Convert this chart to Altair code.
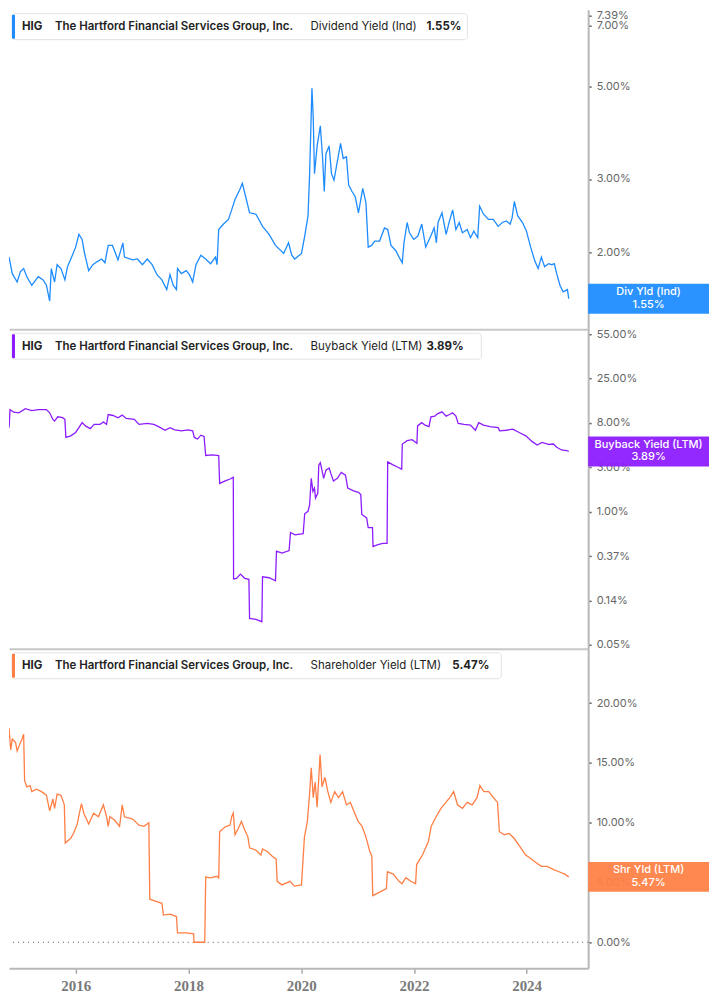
import altair as alt
import pandas as pd

TICKER = "HIG"
COMPANY = "The Hartford Financial Services Group, Inc."
SERIES_NAMES = ["Dividend Yield (Ind)", "Buyback Yield (LTM)", "Shareholder Yield (LTM)"]
SHORT_NAMES = ["Div Yld (Ind)", "Buyback Yield (LTM)", "Shr Yld (LTM)"]
LAST_VALUES = [1.55, 3.89, 5.47]
LAST_LABELS = ["1.55%", "3.89%", "5.47%"]
COLORS = ["#1E8CFF", "#8C1CFF", "#FF7F45"]

# Dividend yield (Ind), %  (decimal year, value)
div_t = [2014.815, 2014.872, 2014.958, 2015.017, 2015.074, 2015.131, 2015.218, 2015.334, 2015.420, 2015.478,
         2015.536, 2015.564, 2015.623, 2015.668, 2015.737, 2015.806, 2015.853, 2015.939, 2015.997, 2016.055,
         2016.112, 2016.152, 2016.228, 2016.303, 2016.372, 2016.458, 2016.516, 2016.574, 2016.649, 2016.747,
         2016.834, 2016.862, 2017.007, 2017.093, 2017.180, 2017.266, 2017.353, 2017.439, 2017.526, 2017.612,
         2017.670, 2017.727, 2017.785, 2017.803, 2017.872, 2017.958, 2018.016, 2018.073, 2018.131, 2018.218,
         2018.304, 2018.391, 2018.478, 2018.505, 2018.535, 2018.621, 2018.708, 2018.765, 2018.824, 2018.910,
         2018.955, 2019.014, 2019.083, 2019.197, 2019.313, 2019.429, 2019.543, 2019.689, 2019.775, 2019.832,
         2019.885, 2020.005, 2020.062, 2020.121, 2020.149, 2020.190, 2020.213, 2020.235, 2020.282, 2020.339,
         2020.381, 2020.408, 2020.438, 2020.495, 2020.536, 2020.581, 2020.628, 2020.697, 2020.744, 2020.801,
         2020.841, 2020.900, 2020.957, 2021.014, 2021.090, 2021.147, 2021.187, 2021.246, 2021.303, 2021.389,
         2021.476, 2021.533, 2021.592, 2021.678, 2021.735, 2021.792, 2021.822, 2021.879, 2021.920, 2021.995,
         2022.069, 2022.138, 2022.208, 2022.284, 2022.358, 2022.398, 2022.427, 2022.497, 2022.571, 2022.630,
         2022.687, 2022.744, 2022.803, 2022.860, 2022.946, 2023.003, 2023.062, 2023.131, 2023.166, 2023.235,
         2023.322, 2023.408, 2023.495, 2023.569, 2023.638, 2023.708, 2023.742, 2023.782, 2023.841, 2023.927,
         2023.997, 2024.071, 2024.145, 2024.204, 2024.261, 2024.318, 2024.388, 2024.446, 2024.491, 2024.533,
         2024.590, 2024.647, 2024.723, 2024.746]
div_v = [1.95, 1.78, 1.70, 1.80, 1.83, 1.75, 1.67, 1.75, 1.72, 1.67,
         1.53, 1.83, 1.70, 1.87, 1.83, 1.72, 1.85, 1.97, 2.06, 2.21,
         2.15, 2.00, 1.81, 1.87, 1.90, 1.93, 1.89, 2.08, 2.08, 1.92,
         2.11, 1.95, 1.92, 1.93, 1.87, 1.93, 1.87, 1.77, 1.72, 1.63,
         1.77, 1.67, 1.63, 1.83, 1.78, 1.81, 1.77, 1.70, 1.87, 1.97,
         1.93, 1.88, 1.95, 1.87, 2.27, 2.34, 2.40, 2.53, 2.68, 2.83,
         2.93, 2.72, 2.49, 2.47, 2.31, 2.21, 2.08, 1.99, 2.11, 1.97,
         1.93, 1.99, 2.19, 2.45, 3.09, 4.95, 4.21, 3.09, 3.60, 4.02,
         3.33, 2.80, 3.45, 3.60, 3.09, 2.98, 3.24, 3.65, 3.36, 3.39,
         2.90, 2.80, 2.72, 2.49, 2.85, 2.63, 2.06, 2.08, 2.13, 2.13,
         2.29, 2.27, 2.08, 2.02, 1.95, 1.89, 2.11, 2.36, 2.23, 2.15,
         2.19, 2.34, 2.06, 2.17, 2.29, 2.11, 2.36, 2.49, 2.21, 2.38,
         2.53, 2.27, 2.36, 2.23, 2.27, 2.17, 2.25, 2.17, 2.58, 2.47,
         2.40, 2.40, 2.31, 2.36, 2.38, 2.34, 2.42, 2.65, 2.45, 2.36,
         2.25, 2.06, 1.91, 1.83, 1.95, 1.85, 1.88, 1.87, 1.88, 1.78,
         1.67, 1.61, 1.63, 1.55]

# Buyback yield (LTM), %
buy_t = [2014.815, 2014.832, 2014.900, 2014.988, 2015.104, 2015.218, 2015.334, 2015.478, 2015.536, 2015.593,
         2015.623, 2015.680, 2015.766, 2015.806, 2015.824, 2015.910, 2015.997, 2016.055, 2016.112, 2016.170,
         2016.256, 2016.325, 2016.429, 2016.488, 2016.545, 2016.574, 2016.661, 2016.747, 2016.822, 2016.891,
         2017.035, 2017.121, 2017.266, 2017.381, 2017.467, 2017.583, 2017.670, 2017.756, 2017.872, 2017.986,
         2018.073, 2018.102, 2018.159, 2018.218, 2018.275, 2018.304, 2018.419, 2018.535, 2018.552, 2018.651,
         2018.737, 2018.794, 2018.799, 2018.851, 2018.920, 2018.997, 2019.071, 2019.083, 2019.197, 2019.301,
         2019.313, 2019.429, 2019.543, 2019.561, 2019.659, 2019.785, 2019.810, 2019.889, 2020.035, 2020.062,
         2020.121, 2020.149, 2020.178, 2020.208, 2020.235, 2020.253, 2020.294, 2020.311, 2020.339, 2020.398,
         2020.438, 2020.495, 2020.524, 2020.571, 2020.640, 2020.709, 2020.784, 2020.824, 2020.927, 2021.014,
         2021.055, 2021.073, 2021.159, 2021.187, 2021.263, 2021.273, 2021.360, 2021.446, 2021.522, 2021.533,
         2021.619, 2021.706, 2021.782, 2021.792, 2021.879, 2021.965, 2022.052, 2022.064, 2022.138, 2022.197,
         2022.266, 2022.301, 2022.370, 2022.415, 2022.497, 2022.571, 2022.630, 2022.687, 2022.744, 2022.785,
         2022.889, 2023.003, 2023.090, 2023.149, 2023.235, 2023.349, 2023.495, 2023.522, 2023.638, 2023.754,
         2023.869, 2023.984, 2024.100, 2024.187, 2024.273, 2024.388, 2024.474, 2024.533, 2024.619, 2024.706,
         2024.746]
buy_v = [6.65, 9.98, 9.42, 9.28, 10.2, 9.77, 9.98, 9.98, 9.28, 8.0,
         7.71, 8.49, 8.31, 8.0, 5.33, 5.53, 5.96, 6.65, 7.44, 6.91,
         6.51, 7.16, 7.16, 7.55, 7.16, 8.93, 8.74, 8.31, 8.82, 8.18,
         8.0, 7.16, 7.32, 7.16, 6.80, 6.27, 6.65, 6.33, 6.19, 6.33,
         6.19, 5.33, 5.14, 5.61, 5.45, 3.55, 3.60, 3.55, 1.89, 2.00,
         2.09, 2.17, 0.220, 0.223, 0.245, 0.223, 0.218, 0.0905, 0.0886, 0.084,
         0.231, 0.226, 0.211, 0.411, 0.393, 0.417, 0.626, 0.595, 0.61, 0.954,
         1.01, 1.17, 2.12, 1.58, 1.70, 1.36, 1.52, 2.85, 3.02, 2.12,
         2.55, 2.68, 2.37, 2.00, 2.12, 2.42, 2.28, 1.70, 1.60, 1.55,
         1.47, 0.94, 0.87, 0.70, 0.70, 0.456, 0.477, 0.49, 0.49, 3.07,
         2.89, 2.74, 2.61, 4.60, 4.95, 5.07, 4.67, 6.91, 7.44, 7.03,
         6.80, 8.49, 8.62, 9.08, 9.49, 8.62, 8.93, 9.28, 8.62, 7.32,
         7.16, 7.03, 6.27, 7.44, 7.03, 6.80, 6.65, 6.19, 6.27, 6.42,
         5.96, 5.53, 4.85, 4.50, 4.77, 4.56, 4.60, 4.27, 4.02, 3.97,
         3.89]

# Shareholder yield (LTM), %
shr_t = [2014.815, 2014.844, 2014.872, 2014.931, 2014.958, 2015.017, 2015.045, 2015.074, 2015.091, 2015.131,
         2015.190, 2015.218, 2015.304, 2015.391, 2015.478, 2015.536, 2015.593, 2015.623, 2015.668, 2015.737,
         2015.796, 2015.813, 2015.910, 2015.969, 2016.026, 2016.055, 2016.100, 2016.142, 2016.228, 2016.315,
         2016.401, 2016.488, 2016.545, 2016.574, 2016.602, 2016.689, 2016.775, 2016.822, 2016.862, 2017.007,
         2017.121, 2017.208, 2017.294, 2017.311, 2017.410, 2017.526, 2017.554, 2017.670, 2017.785, 2017.803,
         2017.958, 2018.090, 2018.095, 2018.287, 2018.304, 2018.391, 2018.505, 2018.535, 2018.552, 2018.651,
         2018.737, 2018.765, 2018.794, 2018.824, 2018.881, 2018.938, 2018.997, 2019.054, 2019.083, 2019.197,
         2019.284, 2019.313, 2019.400, 2019.486, 2019.555, 2019.573, 2019.659, 2019.803, 2019.879, 2020.005,
         2020.057, 2020.109, 2020.144, 2020.178, 2020.213, 2020.247, 2020.282, 2020.334, 2020.369, 2020.420,
         2020.472, 2020.524, 2020.593, 2020.662, 2020.732, 2020.801, 2020.870, 2020.939, 2021.009, 2021.078,
         2021.147, 2021.216, 2021.251, 2021.268, 2021.389, 2021.510, 2021.528, 2021.631, 2021.735, 2021.787,
         2021.856, 2021.943, 2022.029, 2022.047, 2022.150, 2022.254, 2022.306, 2022.393, 2022.479, 2022.566,
         2022.635, 2022.704, 2022.773, 2022.860, 2022.946, 2023.033, 2023.119, 2023.171, 2023.240, 2023.327,
         2023.413, 2023.483, 2023.517, 2023.604, 2023.690, 2023.777, 2023.881, 2023.984, 2024.071, 2024.157,
         2024.261, 2024.365, 2024.469, 2024.573, 2024.676, 2024.746]
shr_v = [17.9, 16.1, 17.0, 16.7, 16.0, 16.7, 17.0, 17.4, 13.5, 13.0,
         13.1, 12.6, 12.8, 12.6, 12.3, 11.0, 12.0, 11.2, 12.4, 12.3,
         11.5, 8.3, 8.7, 9.2, 9.9, 10.6, 11.6, 10.8, 9.9, 10.8,
         10.5, 11.5, 10.5, 9.7, 10.5, 10.2, 9.7, 11.5, 10.5, 10.3,
         9.8, 9.7, 10.0, 3.6, 3.45, 3.26, 2.27, 2.35, 2.15, 0.78,
         0.78, 0.70, 0.0, 0.0, 5.46, 5.38, 5.52, 5.38, 9.25, 9.66,
         9.8, 10.5, 10.8, 9.0, 9.5, 10.1, 9.4, 8.8, 7.9, 7.7,
         7.3, 7.8, 7.6, 7.2, 6.95, 5.1, 4.8, 5.1, 4.7, 4.8,
         8.8, 10.1, 12.1, 14.6, 12.1, 13.4, 11.3, 15.7, 13.0, 13.8,
         12.6, 11.7, 12.6, 12.1, 12.6, 11.5, 11.7, 10.9, 10.1, 9.7,
         8.8, 7.6, 7.2, 3.9, 4.2, 4.5, 5.9, 5.7, 5.1, 4.9,
         5.4, 5.1, 4.9, 6.5, 7.3, 8.4, 9.7, 10.5, 11.2, 11.7,
         12.1, 12.6, 11.5, 11.2, 11.7, 11.5, 12.1, 13.1, 12.6, 12.6,
         12.1, 11.7, 9.25, 9.0, 9.1, 8.7, 8.0, 7.3, 7.0, 6.7,
         6.35, 6.35, 6.1, 5.9, 5.7, 5.47]

DIV_TICKS = [2, 3, 5, 7, 7.39]
BUY_TICKS = [0.0498, 0.1353, 0.3679, 1.0, 2.7183, 7.389, 20.086, 54.598]
BUY_TICK_LABELS = ["0.05%", "0.14%", "0.37%", "1.00%", "3.00%", "8.00%", "25.00%", "55.00%"]
SHR_TICKS = [0, 5, 10, 15, 20]
YEARS = [2016, 2018, 2020, 2022, 2024]

W, H = 580, 320
FONT = "Inter"


def to_ts(y):
    yr = int(y)
    a = pd.Timestamp(year=yr, month=1, day=1)
    b = pd.Timestamp(year=yr + 1, month=1, day=1)
    return (a + (b - a) * (y - yr)).strftime("%Y-%m-%dT%H:%M:%S")


def frame(ts, vs):
    return pd.DataFrame({"date": [to_ts(t) for t in ts], "v": vs})


xscale = alt.Scale(domain=[alt.DateTime(year=2014, month=10, date=25),
                           alt.DateTime(year=2025, month=2, date=3)])

buy_expr = ""
for t, lab in zip(BUY_TICKS[:-1], BUY_TICK_LABELS[:-1]):
    buy_expr += "datum.value < %g ? '%s' : " % (t * 1.5, lab)
buy_expr += "'%s'" % BUY_TICK_LABELS[-1]
pct_expr = "format(datum.value, '.2f') + '%'"


def yaxis(values, expr):
    return alt.Axis(orient="right", values=values, labelExpr=expr, grid=False,
                    domain=True, domainColor="#b8b8b8", domainWidth=2,
                    ticks=True, tickSize=3, tickColor="#666", tickWidth=1.5,
                    labelFont=FONT, labelFontSize=11, labelColor="#666",
                    labelPadding=5, labelOverlap=False, labelFlush=False, title=None)


def panel(i, df, yscale, axis, box_right, value_x, bottom=False):
    color = COLORS[i]
    if bottom:
        xaxis = alt.Axis(values=[alt.DateTime(year=y, month=1, date=1) for y in YEARS],
                         format="%Y", grid=False, domainColor="#b8b8b8", domainWidth=2,
                         tickSize=5, tickColor="#aaa", tickWidth=1.5,
                         labelFont="Liberation Sans Narrow", labelFontSize=15,
                         labelFontWeight="bold", labelColor="#7a7a7a", labelPadding=5,
                         labelFlush=False, title=None)
    else:
        xaxis = alt.Axis(labels=False, ticks=False, grid=False, domain=True,
                         domainColor="#c8c8c8", domainWidth=2, title=None)
    xenc = alt.X("date:T", scale=xscale, axis=xaxis, title=None)
    yenc = alt.Y("v:Q", scale=yscale, axis=axis, title=None)

    layers = []
    if bottom:
        zero = alt.Chart(pd.DataFrame({"v": [0]})).mark_rule(
            color="#555", strokeDash=[1, 4], strokeWidth=1).encode(y=yenc)
        layers.append(zero)
    line = alt.Chart(df).mark_line(color=color, strokeWidth=1.3, clip=True).encode(x=xenc, y=yenc)
    layers.append(line)

    last = pd.DataFrame({"v": [LAST_VALUES[i]], "name": [SHORT_NAMES[i]], "lab": [LAST_LABELS[i]]})
    bx = W + 60.5
    layers.append(alt.Chart(last).mark_tick(orient="horizontal", thickness=30, size=121,
                                            color=color, opacity=0.94).encode(x=alt.value(bx), y=yenc))
    layers.append(alt.Chart(last).mark_text(color="white", font=FONT, fontSize=11, fontWeight=500,
                                            align="center", baseline="middle", dy=-6.5)
                  .encode(x=alt.value(bx), y=yenc, text="name:N"))
    layers.append(alt.Chart(last).mark_text(color="white", font=FONT, fontSize=11, fontWeight=500,
                                            align="center", baseline="middle", dy=6)
                  .encode(x=alt.value(bx), y=yenc, text="lab:N"))

    one = pd.DataFrame({"a": [0]})
    layers.append(alt.Chart(one).mark_rect(fill="white", stroke="#e2e2e2", strokeWidth=1, cornerRadius=3)
                  .encode(x=alt.value(3), x2=alt.value(box_right), y=alt.value(4), y2=alt.value(30)))
    layers.append(alt.Chart(one).mark_rect(fill=color, cornerRadius=1)
                  .encode(x=alt.value(3), x2=alt.value(6), y=alt.value(5), y2=alt.value(29)))
    texts = [(13, TICKER, 700), (46, COMPANY, 600), (302, SERIES_NAMES[i], 400), (value_x, LAST_LABELS[i], 700)]
    for xp, s, wgt in texts:
        layers.append(alt.Chart(one).mark_text(align="left", baseline="middle", font=FONT, fontSize=11.5,
                                               fontWeight=wgt, color="#222")
                      .encode(x=alt.value(xp), y=alt.value(17.5), text=alt.value(s)))
    return alt.layer(*layers).properties(width=W, height=H)


p1 = panel(0, frame(div_t, div_v),
           alt.Scale(type="log", domain=[1.31, 7.63], nice=False),
           yaxis(DIV_TICKS, pct_expr), 459, 418)
p2 = panel(1, frame(buy_t, buy_v),
           alt.Scale(type="log", domain=[0.0456, 61.0], nice=False),
           yaxis(BUY_TICKS, buy_expr), 473, 418)
p3 = panel(2, frame(shr_t, shr_v),
           alt.Scale(type="linear", domain=[-2.18, 24.55], nice=False, zero=False),
           yaxis(SHR_TICKS, pct_expr), 493, 444, bottom=True)

chart = alt.vconcat(p1, p2, p3, spacing=0, bounds="flush").properties(padding=0).configure_view(stroke=None)

chart.save("out.html", embed_options={"renderer": "svg", "actions": False})
